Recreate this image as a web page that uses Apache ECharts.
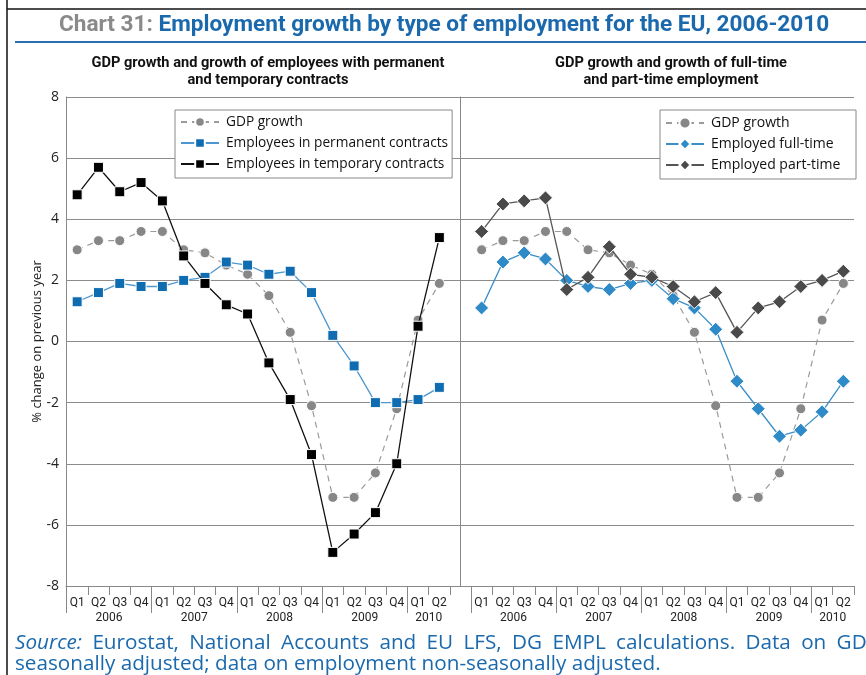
<!DOCTYPE html>
<html>
<head>
<meta charset="utf-8">
<script src="https://cdn.jsdelivr.net/npm/echarts@6/dist/echarts.min.js"></script>
<style>
html,body{margin:0;padding:0;background:#fff;}
#c{width:866px;height:675px;}
</style>
</head>
<body>
<div id="c"></div>
<script>
// ---- data ----
const quarters = ['Q1','Q2','Q3','Q4','Q1','Q2','Q3','Q4','Q1','Q2','Q3','Q4','Q1','Q2','Q3','Q4','Q1','Q2'];
const years = ['2006','2007','2008','2009','2010'];
const yearCenters = [2, 6, 10, 14, 17];
const yearBounds = [0, 4, 8, 12, 16];
const yTicks = [-8, -6, -4, -2, 0, 2, 4, 6, 8];

const gdp = [3.0, 3.3, 3.3, 3.6, 3.6, 3.0, 2.9, 2.5, 2.2, 1.5, 0.3, -2.1, -5.1, -5.1, -4.3, -2.2, 0.7, 1.9];
const permanent = [1.3, 1.6, 1.9, 1.8, 1.8, 2.0, 2.1, 2.6, 2.5, 2.2, 2.3, 1.6, 0.2, -0.8, -2.0, -2.0, -1.9, -1.5];
const temporary = [4.8, 5.7, 4.9, 5.2, 4.6, 2.8, 1.9, 1.2, 0.9, -0.7, -1.9, -3.7, -6.9, -6.3, -5.6, -4.0, 0.5, 3.4];
const fullTime = [1.1, 2.6, 2.9, 2.7, 2.0, 1.8, 1.7, 1.9, 2.0, 1.4, 1.1, 0.4, -1.3, -2.2, -3.1, -2.9, -2.3, -1.3];
const partTime = [3.6, 4.5, 4.6, 4.7, 1.7, 2.1, 3.1, 2.2, 2.1, 1.8, 1.3, 1.6, 0.3, 1.1, 1.3, 1.8, 2.0, 2.3];

const GRID_TOP = 97, GRID_BOTTOM = 89;
const condFont = 'Roboto';
const bodyFont = 'Open Sans';

const chart = echarts.init(document.getElementById('c'));

function quarterAxis(gridIndex){
  return {
    type: 'category', gridIndex, data: quarters, boundaryGap: true,
    axisLine: {show: false, onZero: false},
    axisTick: {show: true, interval: 0, length: 9, lineStyle: {color: '#888', width: 1}},
    axisLabel: {interval: 0, margin: 11, fontFamily: condFont, fontSize: 12, color: '#222'},
    splitLine: {show: false}
  };
}
function yearAxis(gridIndex){
  return {
    type: 'value', gridIndex, min: 0, max: 18, position: 'bottom',
    axisLine: {show: false, onZero: false},
    axisTick: {show: true, customValues: yearBounds, length: 27, lineStyle: {color: '#888', width: 1}},
    axisLabel: {show: true, customValues: yearCenters, margin: 26, fontFamily: condFont, fontSize: 12, color: '#222',
      formatter: v => years[yearCenters.indexOf(v)] || ''},
    splitLine: {show: false}
  };
}
function hiddenY(gridIndex){
  return {type: 'value', gridIndex, min: -8, max: 8, interval: 2, show: false};
}

const gdpSeries = (xi, yi) => ({
  name: 'GDP growth', type: 'line', xAxisIndex: xi, yAxisIndex: yi, data: gdp,
  symbol: 'circle', symbolSize: 10, z: 3,
  itemStyle: {color: '#878787', borderColor: '#fff', borderWidth: 1},
  lineStyle: {color: '#9a9a9a', width: 1.2, type: [6, 5]}
});

const SP = '\u2002';
const option = {
  animation: false,
  backgroundColor: '#fff',
  title: [
    {text: '{g|Chart 31: }{b|Employment growth by type of employment for the EU, 2006-2010}',
     left: 54, top: 9,
     textStyle: {rich: {
       g: {fontFamily: condFont, fontWeight: 'bold', fontSize: 22.6, color: '#8a8a8a'},
       b: {fontFamily: condFont, fontWeight: 'bold', fontSize: 22.6, color: '#1a69ad'}
     }}},
    {text: 'GDP growth and growth of employees with permanent\nand temporary contracts',
     left: 263, top: 50, textAlign: 'center',
     textStyle: {fontFamily: condFont, fontWeight: 'bold', fontSize: 14.6, lineHeight: 17, color: '#111'}},
    {text: 'GDP growth and growth of full-time\nand part-time employment',
     left: 666, top: 50, textAlign: 'center',
     textStyle: {fontFamily: condFont, fontWeight: 'bold', fontSize: 14.6, lineHeight: 17, color: '#111'}},
    {text: ['{i|Source:}', 'Eurostat,', 'National', 'Accounts', 'and', 'EU', 'LFS,', 'DG', 'EMPL', 'calculations.', 'Data', 'on', 'GDP'].join(SP) +
           '\nseasonally adjusted; data on employment non-seasonally adjusted.',
     left: 10, top: 627,
     textStyle: {fontFamily: bodyFont, fontWeight: 'normal', fontSize: 20.7, lineHeight: 21.5, color: '#1a69ad',
       rich: {i: {fontFamily: bodyFont, fontStyle: 'italic', fontSize: 20.7, color: '#1a69ad'}}}}
  ],
  graphic: [
    {type: 'line', shape: {x1: 7, y1: 0, x2: 7, y2: 675}, style: {stroke: '#111', lineWidth: 1.5}, silent: true},
    {type: 'line', shape: {x1: 7, y1: 9, x2: 866, y2: 9}, style: {stroke: '#111', lineWidth: 1.5}, silent: true},
    {type: 'line', shape: {x1: 15, y1: 42, x2: 866, y2: 42}, style: {stroke: '#2a6fb5', lineWidth: 2}, silent: true}
  ],
  legend: [
    {data: ['GDP growth', 'Employees in permanent contracts', 'Employees in temporary contracts'],
     orient: 'vertical', left: 175, top: 110, itemWidth: 38, itemHeight: 12, itemGap: 7,
     padding: [5, 4, 7, 5], backgroundColor: '#fff', borderColor: '#888', borderWidth: 1,
     textStyle: {fontFamily: bodyFont, fontSize: 13.7, color: '#111', lineHeight: 14, padding: [0,0,0,2]}},
    {data: ['GDP growth ', 'Employed full-time', 'Employed part-time'],
     orient: 'vertical', left: 660, top: 110, itemWidth: 38, itemHeight: 14, itemGap: 7,
     padding: [6, 6, 7, 5], backgroundColor: '#fff', borderColor: '#888', borderWidth: 1,
     textStyle: {fontFamily: bodyFont, fontSize: 14, color: '#111', lineHeight: 14, width: 139, overflow: 'none', padding: [0,0,0,2]}}
  ],
  grid: [
    {left: 66, right: 12, top: GRID_TOP, bottom: GRID_BOTTOM},          // 0 background
    {left: 460, width: 394, top: GRID_TOP, bottom: GRID_BOTTOM},        // 1 divider
    {left: 66.5, width: 383.5, top: GRID_TOP, bottom: GRID_BOTTOM},     // 2 left data
    {left: 471, width: 383, top: GRID_TOP, bottom: GRID_BOTTOM}         // 3 right data
  ],
  xAxis: [
    {type: 'value', gridIndex: 0, min: 0, max: 1, axisLine: {show: true, onZero: false, lineStyle: {color: '#888'}},
     axisTick: {show: false}, axisLabel: {show: false}, splitLine: {show: false}},
    {type: 'value', gridIndex: 1, min: 0, max: 1, show: false},
    quarterAxis(2), yearAxis(2),
    quarterAxis(3), yearAxis(3)
  ],
  yAxis: [
    {type: 'value', gridIndex: 0, min: -8, max: 8, interval: 2,
     name: '% change on previous year', nameLocation: 'middle', nameRotate: 90, nameGap: 22, nameMoveOverlap: false,
     nameTextStyle: {fontFamily: bodyFont, fontSize: 13, color: '#222'},
     axisLine: {show: true, lineStyle: {color: '#888'}}, axisTick: {show: false},
     axisLabel: {margin: 7, fontFamily: bodyFont, fontSize: 14, color: '#222', customValues: yTicks},
     splitLine: {show: true, lineStyle: {color: '#8c8c8c', width: 1}}},
    {type: 'value', gridIndex: 1, min: -8, max: 8, interval: 2,
     axisLine: {show: true, lineStyle: {color: '#888'}}, axisTick: {show: false}, axisLabel: {show: false}, splitLine: {show: false}},
    hiddenY(2), hiddenY(3)
  ],
  series: [
    gdpSeries(2, 2),
    {name: 'Employees in permanent contracts', type: 'line', xAxisIndex: 2, yAxisIndex: 2, data: permanent,
     symbol: 'rect', symbolSize: 10, z: 4,
     itemStyle: {color: '#0f6cb0', borderColor: '#fff', borderWidth: 1},
     lineStyle: {color: '#4f97cf', width: 1.3}},
    {name: 'Employees in temporary contracts', type: 'line', xAxisIndex: 2, yAxisIndex: 2, data: temporary,
     symbol: 'rect', symbolSize: 10, z: 5,
     itemStyle: {color: '#000', borderColor: '#fff', borderWidth: 1},
     lineStyle: {color: '#111', width: 1.3}},
    Object.assign(gdpSeries(4, 3), {name: 'GDP growth '}),
    {name: 'Employed full-time', type: 'line', xAxisIndex: 4, yAxisIndex: 3, data: fullTime,
     symbol: 'diamond', symbolSize: 14, z: 4,
     itemStyle: {color: '#2f8bc7', borderColor: '#fff', borderWidth: 1},
     lineStyle: {color: '#3b8fc8', width: 1.3}},
    {name: 'Employed part-time', type: 'line', xAxisIndex: 4, yAxisIndex: 3, data: partTime,
     symbol: 'diamond', symbolSize: 14, z: 5,
     itemStyle: {color: '#4a4a4a', borderColor: '#fff', borderWidth: 1},
     lineStyle: {color: '#555', width: 1.3}}
  ]
};
chart.setOption(option);
</script>
</body>
</html>
